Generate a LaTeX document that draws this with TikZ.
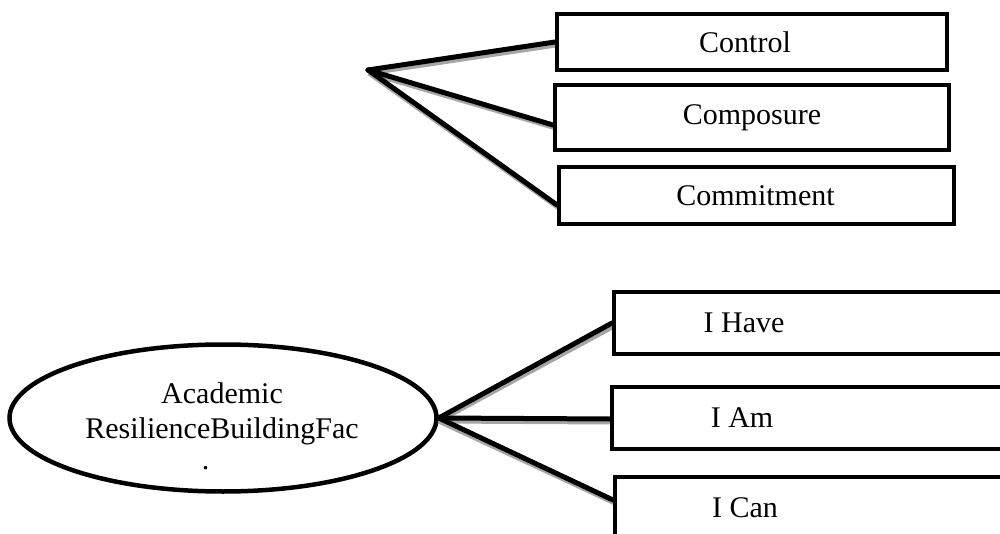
\documentclass[tikz,border=0pt]{standalone}
\usepackage{fontspec}
\setmainfont{Liberation Serif}
\usetikzlibrary{shapes.geometric}
\begin{document}
\begin{tikzpicture}[x=1pt,y=-1pt,
  box/.style={draw=black,line width=4pt,minimum height=56pt,inner sep=0pt,anchor=north west,
    font=\fontsize{30}{36}\selectfont},
  link/.style={line width=5pt,line cap=round},
  shade/.style={draw=gray!70,line width=5pt}]
\useasboundingbox (0,0) rectangle (1000,534);
% shadows of boxes
\fill[gray!60] (558,15) rectangle (949,72);
\fill[gray!60] (556,86) rectangle (951,152);
\fill[gray!60] (560,168) rectangle (956,226);
\fill[gray!60] (615,293) rectangle (1010,356);
\fill[gray!60] (613,388) rectangle (1010,451);
\fill[gray!60] (616,478) rectangle (1010,540);
% top fan
\coordinate (f) at (368,70);
\draw[shade] (369,73) -- (556,45);
\draw[shade] (369,73) -- (556,128);
\draw[shade] (369,73) -- (559,208);
\node[box,fill=white,minimum width=390pt,minimum height=56pt] (ctl) at (555,12) {\hspace*{-14pt}Control};
\node[box,fill=white,minimum width=394pt,minimum height=65pt] (cmp) at (553,83) {\raisebox{-3pt}{Composure}};
\node[box,fill=white,minimum width=395pt,minimum height=57pt] (cmt) at (557,165) {\hspace*{-2pt}Commitment};
\draw[link] (f) -- (ctl.west |- 0,42);
\draw[link] (f) -- (cmp.west |- 0,125);
\draw[link] (f) -- (cmt.west |- 0,205);
% bottom
\node[draw=black,line width=4.5pt,ellipse,minimum width=427pt,minimum height=147pt,inner sep=0pt] (arb) at (223,418) {};
\node[align=center,font=\fontsize{30}{35}\selectfont] (arbt) at (222,426) {Academic\\ResilienceBuildingFac\\[-4pt]\hspace*{-1.1em}.};
\draw[shade] (arb.east) ++(0,3) -- (614,326);
\draw[shade] (arb.east) ++(0,3) -- (612,422);
\draw[shade] (arb.east) ++(0,3) -- (615,503);
\node[box,fill=white,minimum width=400pt,minimum height=62pt] (ih) at (612,290) {\hspace*{-140pt}I Have};
\node[box,fill=white,minimum width=400pt,minimum height=62pt] (ia) at (610,385) {\hspace*{-140pt}I Am};
\node[box,fill=white,minimum width=400pt,minimum height=62pt] (ic) at (613,475) {\hspace*{-140pt}I Can};
\draw[link] (arb.east) -- (ih.west |- 0,323);
\draw[link] (arb.east) -- (ia.west |- 0,419);
\draw[link] (arb.east) -- (ic.west |- 0,500);
\end{tikzpicture}
\end{document}
